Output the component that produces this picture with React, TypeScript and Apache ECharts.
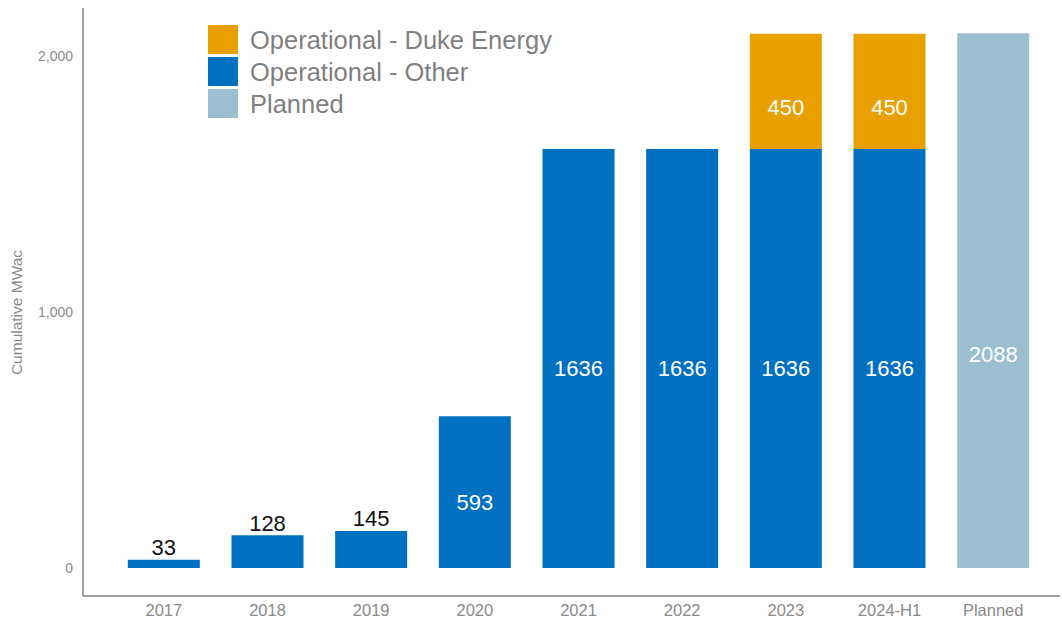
import React, { useEffect, useRef } from "react";
import * as echarts from "echarts";

const categories = ["2017", "2018", "2019", "2020", "2021", "2022", "2023", "2024-H1", "Planned"];
const otherValues: (number | null)[] = [33, 128, 145, 593, 1636, 1636, 1636, 1636, null];
const dukeValues: (number | null)[] = [null, null, null, null, null, null, 450, 450, null];
const plannedValues: (number | null)[] = [null, null, null, null, null, null, null, null, 2088];
const yTicks = [0, 1000, 2000];

const FONT = "'Liberation Sans', Arial, sans-serif";

export default function App() {
  const ref = useRef<HTMLDivElement>(null);
  useEffect(() => {
    const chart = echarts.init(ref.current!, null, { renderer: "svg" });
    const outsideLabel = {
      show: true,
      position: "top",
      distance: 1,
      offset: [0, 0],
      color: "#111",
      fontSize: 22,
      fontFamily: FONT,
    };
    const otherData = otherValues.map((v) =>
      v !== null && v < 300 ? { value: v, label: outsideLabel } : v
    );
    chart.setOption({
      animation: false,
      textStyle: { fontFamily: FONT },
      legend: {
        orient: "vertical",
        left: 208,
        top: 25,
        padding: 0,
        itemWidth: 30,
        itemHeight: 29,
        itemGap: 3,
        icon: "rect",
        data: ["Operational - Duke Energy", "Operational - Other", "Planned"],
        textStyle: { fontSize: 25.5, lineHeight: 29, color: "#7f7f7f", fontFamily: FONT, padding: [0, 0, 0, 7] },
      },
      grid: { left: 112, right: 17, top: 8, bottom: 22 },
      xAxis: {
        type: "category",
        data: categories,
        axisLine: { show: false },
        axisTick: { show: false },
        axisLabel: { color: "#8a8a8a", fontSize: 16.5, margin: 6, fontFamily: FONT },
      },
      yAxis: {
        type: "value",
        min: -105,
        max: 2187,
        name: "Cumulative MWac",
        nameLocation: "middle",
        nameGap: 88,
        nameTextStyle: { color: "#8a8a8a", fontSize: 15.5, fontFamily: FONT, padding: [0, 22, 0, 0] },
        splitLine: { show: false },
        axisLine: { show: false },
        axisTick: { show: false },
        axisLabel: {
          customValues: yTicks,
          color: "#8a8a8a",
          fontSize: 14,
          margin: 39,
          fontFamily: FONT,
          formatter: (v: number) => v.toLocaleString("en-US"),
        },
      },
      graphic: [
        { type: "line", shape: { x1: 83, y1: 8, x2: 83, y2: 596 }, style: { stroke: "#7f7f7f", lineWidth: 1.5 } },
        { type: "line", shape: { x1: 83, y1: 596, x2: 1060, y2: 596 }, style: { stroke: "#7f7f7f", lineWidth: 1.5 } },
      ],
      series: [
        {
          name: "Operational - Other",
          type: "bar",
          stack: "total",
          barWidth: 72,
          data: otherData,
          itemStyle: { color: "#0070C0" },
          label: { show: true, position: "inside", offset: [0, 10], color: "#fff", fontSize: 22, fontFamily: FONT },
        },
        {
          name: "Operational - Duke Energy",
          type: "bar",
          stack: "total",
          barWidth: 72,
          data: dukeValues,
          itemStyle: { color: "#E8A000" },
          label: { show: true, position: "inside", offset: [0, 16], color: "#fff", fontSize: 22, fontFamily: FONT },
        },
        {
          name: "Planned",
          type: "bar",
          stack: "total",
          barWidth: 72,
          data: plannedValues,
          itemStyle: { color: "#9BBFCF" },
          label: { show: true, position: ["50%", "60%"], align: "center", verticalAlign: "middle", color: "#fff", fontSize: 22, fontFamily: FONT },
        },
      ],
    });
    return () => chart.dispose();
  }, []);
  return (
    <div
      ref={ref}
      style={{ position: "absolute", left: 0, top: 0, width: 1062, height: 618, background: "#fff" }}
    />
  );
}
